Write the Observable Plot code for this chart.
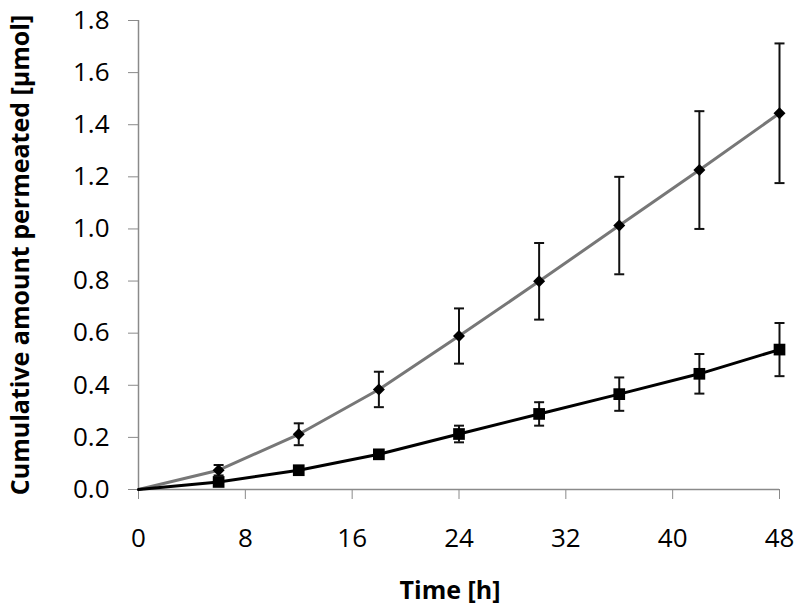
<!DOCTYPE html>
<html>
<head>
<meta charset="utf-8">
<script src="https://cdn.jsdelivr.net/npm/d3@7"></script>
<script src="https://cdn.jsdelivr.net/npm/@observablehq/plot@0.6"></script>
<style>
  html, body { margin: 0; padding: 0; background: #fff; }
  #chart svg { display: block; }
</style>
</head>
<body>
<div id="chart"></div>
<script>
const time = [0, 6, 12, 18, 24, 30, 36, 42, 48];
const meanA = [0, 0.074, 0.212, 0.384, 0.589, 0.799, 1.013, 1.226, 1.444];
const sdA = [0, 0.02, 0.042, 0.068, 0.106, 0.147, 0.187, 0.226, 0.268];
const meanB = [0, 0.029, 0.074, 0.135, 0.213, 0.290, 0.366, 0.444, 0.537];
const sdB = [0, 0.01, 0.01, 0.015, 0.032, 0.045, 0.064, 0.076, 0.102];
const xTicks = [0, 8, 16, 24, 32, 40, 48];
const yTicks = [0, 0.2, 0.4, 0.6, 0.8, 1.0, 1.2, 1.4, 1.6, 1.8];
const xTitle = "Time [h]";
const yTitle = "Cumulative amount permeated [µmol]";

const A = time.map((t, i) => ({t, m: meanA[i], lo: meanA[i] - sdA[i], hi: meanA[i] + sdA[i]}));
const B = time.map((t, i) => ({t, m: meanB[i], lo: meanB[i] - sdB[i], hi: meanB[i] + sdB[i]}));
const Aerr = A.filter(d => d.t > 0);
const Berr = B.filter(d => d.t > 0);

const capSymbol = {
  draw(ctx, size) {
    const w = 5;
    ctx.moveTo(-w, 0);
    ctx.lineTo(w, 0);
  }
};

const font = "'Open Sans', Lato, sans-serif";
const axisGray = "#8a8a8a";

const chart = Plot.plot({
  width: 800,
  height: 611,
  marginLeft: 138,
  marginRight: 21,
  marginTop: 20,
  marginBottom: 122,
  style: {fontFamily: font, fontSize: "26px", color: "#000", background: "#fff"},
  x: {domain: [0, 48]},
  y: {domain: [0, 1.8]},
  marks: [
    Plot.axisX({ticks: xTicks, tickSize: 10, tickPadding: 29, stroke: axisGray, fill: "#000",
      fontSize: 26, label: null}),
    Plot.text([xTitle], {frameAnchor: "bottom", dx: -9, dy: 109, lineAnchor: "bottom",
      fontSize: 25, fontWeight: "bold", fill: "#000"}),
    Plot.axisY({ticks: yTicks, tickSize: 10, tickPadding: 19, tickFormat: d3.format(".1f"),
      stroke: axisGray, fill: "#000", fontSize: 26, label: null}),
    Plot.axisY({ticks: [], label: yTitle, labelArrow: "none", labelAnchor: "center",
      labelOffset: 127, fontSize: 25, fontWeight: "bold", fill: "#000"}),
    Plot.ruleY([0], {stroke: axisGray, strokeWidth: 1.5}),
    Plot.ruleX([0], {stroke: axisGray, strokeWidth: 1.5}),
    // series A (grey line, diamonds)
    Plot.line(A, {x: "t", y: "m", stroke: "#777777", strokeWidth: 3}),
    Plot.ruleX(Aerr, {x: "t", y1: "lo", y2: "hi", stroke: "#111", strokeWidth: 2}),
    Plot.dot(Aerr, {x: "t", y: "lo", symbol: capSymbol, stroke: "#111", strokeWidth: 2, r: 5}),
    Plot.dot(Aerr, {x: "t", y: "hi", symbol: capSymbol, stroke: "#111", strokeWidth: 2, r: 5}),
    Plot.dot(Aerr, {x: "t", y: "m", symbol: "diamond2", fill: "#000", r: 5.4}),
    // series B (black line, squares)
    Plot.line(B, {x: "t", y: "m", stroke: "#000", strokeWidth: 3}),
    Plot.ruleX(Berr, {x: "t", y1: "lo", y2: "hi", stroke: "#111", strokeWidth: 2}),
    Plot.dot(Berr, {x: "t", y: "lo", symbol: capSymbol, stroke: "#111", strokeWidth: 2, r: 5}),
    Plot.dot(Berr, {x: "t", y: "hi", symbol: capSymbol, stroke: "#111", strokeWidth: 2, r: 5}),
    Plot.dot(Berr, {x: "t", y: "m", symbol: "square", fill: "#000", r: 6.6})
  ]
});
document.getElementById("chart").appendChild(chart);
</script>
</body>
</html>
